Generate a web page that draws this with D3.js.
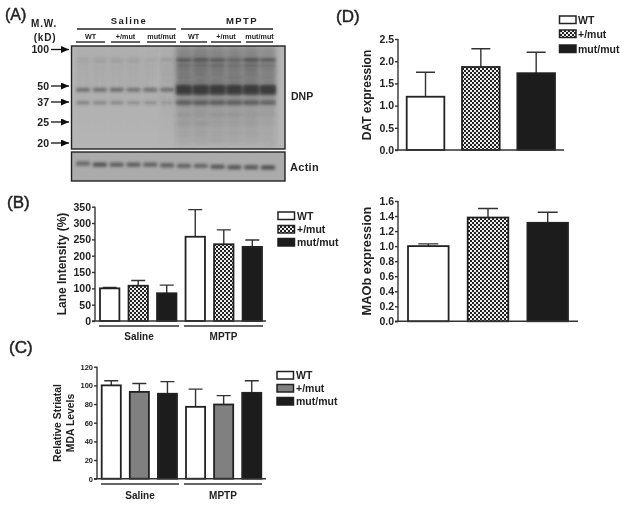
<!DOCTYPE html>
<html><head><meta charset="utf-8">
<script src="https://cdnjs.cloudflare.com/ajax/libs/d3/7.8.5/d3.min.js"></script>
<style>
html,body{margin:0;padding:0;background:#fff}
svg{display:block}
text{font-family:"Liberation Sans",Arial,sans-serif;fill:#222}
.b{font-weight:700}
</style></head><body>
<svg id="c" width="624" height="505"></svg>
<script>
// ---------- data ----------
const genotypes = ["WT", "+/mut", "mut/mut"];
const treatments = ["Saline", "MPTP"];
const groupKeys = ["s-WT","s-het","s-mut","m-WT","m-het","m-mut"];
const laneIntensity = [100,108,85,258,235,227];
const laneIntensityTop = [103,124,110,341,279,248];
const mda = [100,93,91,77,79.5,92];
const mdaTop = [105,102,104,96,89,105];
const dat = [1.2,1.87,1.73];
const datTop = [1.75,2.28,2.2];
const maob = [1.0,1.38,1.31];
const maobTop = [1.03,1.5,1.45];
const mwMarkers = [100,50,37,25,20];
const laneIds = d3.range(12);
// blot band strength per lane (0..1), keyed by apparent MW
const bandMW = [82,74,68,62,56,46.5,36.5,29,24.5,22,20.5];
const bands = [
 [.1,.14,.14,.14,.06,.16,.6,.65,.6,.42,.7,.65],
 [.03,.05,.05,.05,.03,.08,.28,.32,.3,.25,.36,.32],
 [.02,.03,.03,.03,.02,.04,.18,.2,.18,.15,.2,.18],
 [.02,.02,.02,.02,.02,.04,.14,.15,.14,.12,.15,.14],
 [.02,.02,.02,.02,.02,.03,.1,.11,.11,.1,.11,.1],
 [.5,.5,.54,.48,.52,.5,.88,.88,.88,.88,.88,.88],
 [.42,.38,.36,.28,.28,.2,.55,.55,.55,.55,.55,.5],
 [0,0,0,0,0,0,.06,.08,.06,.06,.05,.03],
 [0,0,0,0,0,0,.06,.06,.05,.05,.04,.02],
 [0,0,0,0,0,0,.05,.05,.05,.04,.04,.02],
 [0,0,0,0,0,0,.05,.05,.06,.04,.05,.04]
];
const smear = [.05,.05,.05,.05,.05,.09,.42,.46,.42,.42,.42,.36];
const actinStrength = [.55,.75,.65,.65,.62,.6,.6,.58,.68,.68,.68,.74];
const actinShift = [.39,.43,.43,.43,.43,.45,.47,.47,.5,.52,.52,.53];
// ---------- page ----------
const svg = d3.select("#c");
const defs = svg.append("defs");
const pat = defs.append("pattern").attr("id","chk").attr("width",4).attr("height",4).attr("patternUnits","userSpaceOnUse");
pat.append("rect").attr("width",4).attr("height",4).attr("fill","#222");
pat.append("rect").attr("width",2).attr("height",2).attr("fill","#eee");
pat.append("rect").attr("x",2).attr("y",2).attr("width",2).attr("height",2).attr("fill","#eee");
[["bl1",1.6],["bl3",2.6],["tx",.35]].forEach(([id,s])=>{
  defs.append("filter").attr("id",id).attr("x","-50%").attr("y","-50%").attr("width","200%").attr("height","200%")
    .append("feGaussianBlur").attr("stdDeviation",s);
});
const sm = defs.append("linearGradient").attr("id","sm").attr("x1",0).attr("x2",0).attr("y1",0).attr("y2",1);
[[0,.85],[.4,1],[.6,.5],[1,.15]].forEach(([o,a])=>sm.append("stop").attr("offset",o).attr("stop-color","#333").attr("stop-opacity",a));

const root = svg.append("g").attr("filter","url(#tx)");
const fillWT=()=>"#fff", fillChk=()=>"url(#chk)", fillBlk=()=>"#1a1a1a", fillGray=()=>"#808080";

function txt(x,y,s,size,opt={}){
  const t=root.append("text").attr("x",x).attr("y",y).attr("dy",".36em").attr("font-size",size).text(s)
    .attr("text-anchor",opt.anchor||"start");
  if(opt.bold!==false) t.attr("class","b");
  if(opt.ls) t.attr("letter-spacing",opt.ls);
  if(opt.heavy) t.attr("stroke","#222").attr("stroke-width",opt.heavy);
  if(opt.rot) t.attr("transform",`rotate(-90 ${x} ${y})`);
  return t;
}
function bars(o){
  const x=d3.scaleBand().domain(o.keys).range(o.xr).paddingInner(.32).paddingOuter(0);
  const y=d3.scaleLinear().domain(o.dom).range(o.yr);
  const g=root.append("g");
  g.selectAll(".e").data(o.keys).join("path").attr("fill","none").attr("stroke","#333").attr("stroke-width",1.4)
    .attr("d",(k,i)=>{const c=x(k)+x.bandwidth()/2;return `M${c},${y(o.vals[i])}V${y(o.tops[i])}M${c-o.cap},${y(o.tops[i])}H${c+o.cap}`;});
  g.selectAll(".b").data(o.keys).join("rect")
    .attr("x",k=>x(k)).attr("width",x.bandwidth())
    .attr("y",(k,i)=>y(o.vals[i])).attr("height",(k,i)=>y(0)-y(o.vals[i]))
    .attr("fill",(k,i)=>o.fills[i%o.fills.length]()).attr("stroke","#222").attr("stroke-width",1.8);
  const ax=g.append("g").attr("transform",`translate(${o.ax},0)`)
    .call(d3.axisLeft(y).tickValues(o.ticks).tickFormat(o.fmt).tickSize(3).tickPadding(1));
  ax.selectAll("path,line").attr("stroke","#333").attr("stroke-width",1.4);
  ax.select(".domain").attr("d",`M0,${o.yr[1]}V${o.yr[0]}`);
  ax.selectAll("text").attr("class","b").attr("font-size",o.tickSize).attr("font-family",null).style("font-family",'"Liberation Sans",Arial,sans-serif');
  g.append("line").attr("x1",o.ax-3).attr("x2",o.axEnd).attr("y1",y(0)).attr("y2",y(0)).attr("stroke","#333").attr("stroke-width",1.5);
}
function legend(x,ys,fills,tx,size){
  genotypes.forEach((s,i)=>{
    root.append("rect").attr("x",x).attr("y",ys[i]).attr("width",16.5).attr("height",7.5)
      .attr("fill",fills[i]()).attr("stroke","#222").attr("stroke-width",1.5);
    txt(tx,ys[i]+3.8,s,size);
  });
}
function groups(lines,y,ly,size){
  treatments.forEach((s,i)=>{
    root.append("line").attr("x1",lines[i][0]).attr("x2",lines[i][1]).attr("y1",y).attr("y2",y).attr("stroke","#333").attr("stroke-width",1.3);
    txt((lines[i][0]+lines[i][1])/2,ly,s,size,{anchor:"middle"});
  });
}
const f3=[fillWT,fillChk,fillBlk], fG=[fillWT,fillGray,fillBlk];

// ---------- panel A ----------
const blot={x:71.5,y:46,w:213.5,h:103}, act={x:71.5,y:152,w:213.5,h:29};
const laneX=d3.scalePoint().domain(laneIds).range([83,268]);
const mwY=d3.scaleLog().domain(mwMarkers).range([49.5,86,102,122,143]);
const actY=d3.scaleLinear().domain([0,1]).range([act.y,act.y+act.h]);
const clip=defs.append("clipPath").attr("id","bc");
clip.append("rect").attr("x",blot.x).attr("y",blot.y).attr("width",blot.w).attr("height",blot.h);
clip.append("rect").attr("x",act.x).attr("y",act.y).attr("width",act.w).attr("height",act.h);
root.append("rect").attr("x",blot.x).attr("y",blot.y).attr("width",blot.w).attr("height",blot.h).attr("fill","#b6b6b6");
root.append("rect").attr("x",act.x).attr("y",act.y).attr("width",act.w).attr("height",act.h).attr("fill","#ababab");
const gb=root.append("g").attr("clip-path","url(#bc)");
const gs=gb.append("g").attr("filter","url(#bl3)");
gs.selectAll("rect").data(laneIds).join("rect").attr("x",i=>laneX(i)-8).attr("width",16)
  .attr("y",blot.y).attr("height",blot.h).attr("fill","url(#sm)").attr("opacity",i=>smear[i]);
const g1=gb.append("g").attr("filter","url(#bl1)");
bandMW.forEach((mw,b)=>{
  const hh = b===5 ? (i=>i>5?5:2) : b===6 ? (i=>i>5?2.4:1.5) : (i=>1.6);
  g1.selectAll(null).data(laneIds).join("rect")
    .attr("x",i=>laneX(i)-(i>5?8:7)).attr("width",i=>i>5?16:14).attr("y",i=>mwY(mw)-hh(i)).attr("height",i=>2*hh(i)).attr("rx",1.5)
    .attr("fill","#333").attr("opacity",i=>bands[b][i]);
});
g1.selectAll(".a").data(laneIds).join("rect")
  .attr("x",i=>laneX(i)-7).attr("width",14).attr("y",i=>actY(actinShift[i])-2).attr("height",4.4).attr("rx",1.5)
  .attr("fill","#333").attr("opacity",i=>actinStrength[i]);
[blot,act].forEach(r=>root.append("rect").attr("x",r.x).attr("y",r.y).attr("width",r.w).attr("height",r.h)
  .attr("fill","none").attr("stroke","#222").attr("stroke-width",1.4));
defs.append("marker").attr("id","ah").attr("markerUnits","userSpaceOnUse").attr("markerWidth",9).attr("markerHeight",8)
  .attr("refX",8).attr("refY",3.5).attr("orient","auto").append("path").attr("d","M0,0L8,3.5L0,7Z").attr("fill","#111");
mwMarkers.forEach(m=>{
  const y=mwY(m);
  txt(49,y,String(m),10.5,{anchor:"end"});
  root.append("line").attr("x1",51).attr("x2",69).attr("y1",y).attr("y2",y).attr("stroke","#111").attr("stroke-width",1.3).attr("marker-end","url(#ah)");
});
txt(44,23,"M.W.",10,{anchor:"middle",ls:.8});
txt(45,37,"(kD)",10,{anchor:"middle",ls:.8});
[[77,176],[181,273]].forEach((l,i)=>{
  root.append("line").attr("x1",l[0]).attr("x2",l[1]).attr("y1",29).attr("y2",29).attr("stroke","#222").attr("stroke-width",1.4);
  txt(i?242:129,21,treatments[i],9.5,{anchor:"middle",ls:1.4});
});
[[76,105],[111,140],[147,176],[180,207],[211,241],[246,273]].forEach((l,i)=>{
  root.append("line").attr("x1",l[0]).attr("x2",l[1]).attr("y1",42).attr("y2",42).attr("stroke","#222").attr("stroke-width",1.4);
  txt((l[0]+l[1])/2,36,genotypes[i%3],7.2,{anchor:"middle"});
});
txt(291,96,"DNP",10.5);
txt(290,167,"Actin",11,{ls:.3});

// ---------- panel B ----------
bars({keys:groupKeys,vals:laneIntensity,tops:laneIntensityTop,xr:[100,262],dom:[0,350],yr:[321,206.7],cap:7,
  fills:f3,ax:95,axEnd:266,ticks:d3.range(0,351,50),fmt:d3.format("d"),tickSize:10.5});
txt(62,264,"Lane Intensity (%)",12,{anchor:"middle",rot:true});
legend(278,[212,225.5,238.5],f3,297,10.5);
groups([[99,179],[184,263]],326,336,10);

// ---------- panel C ----------
bars({keys:groupKeys,vals:mda,tops:mdaTop,xr:[101.7,261.3],dom:[0,120],yr:[478.7,366.7],cap:7,
  fills:fG,ax:97,axEnd:266,ticks:d3.range(0,121,20),fmt:d3.format("d"),tickSize:7.5});
txt(57,423,"Relative Striatal",10.4,{anchor:"middle",rot:true});
txt(70,423,"MDA Levels",10.4,{anchor:"middle",rot:true});
legend(277,[371.5,384.5,397.5],fG,296,10.5);
groups([[101,179],[184,262]],484,495,10);

// ---------- panel D ----------
bars({keys:genotypes,vals:dat,tops:datTop,xr:[406.7,555],dom:[0,2.5],yr:[150,39],cap:9.5,
  fills:f3,ax:398,axEnd:564,ticks:d3.range(0,2.51,.5),fmt:d3.format(".1f"),tickSize:10.5});
txt(367,95,"DAT expression",12,{anchor:"middle",rot:true});
legend(559.5,[16,30,45],f3,578,10.5);
bars({keys:genotypes,vals:maob,tops:maobTop,xr:[408,568],dom:[0,1.6],yr:[321.3,201],cap:10,
  fills:f3,ax:398,axEnd:578,ticks:d3.range(0,1.61,.2),fmt:d3.format(".1f"),tickSize:10.5});
txt(366,261,"MAOb expression",12.8,{anchor:"middle",rot:true});

// ---------- panel letters ----------
txt(5,14,"(A)",16,{bold:false,heavy:.45});
txt(7,202,"(B)",17,{bold:false,heavy:.45});
txt(9,347,"(C)",17,{bold:false,heavy:.45});
txt(336,16,"(D)",17,{bold:false,heavy:.45});
</script></body></html>
